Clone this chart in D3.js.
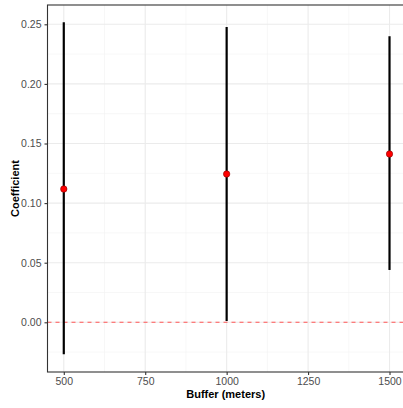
<!DOCTYPE html>
<html>
<head>
<meta charset="utf-8">
<script src="https://cdn.jsdelivr.net/npm/d3@7"></script>
<style>
  body { margin: 0; background: #fff; }
  svg { display: block; font-family: "Liberation Sans", Arial, sans-serif; }
</style>
</head>
<body>
<svg width="403" height="408"></svg>
<script>
// buffer sizes and estimates
const buffers = [500, 1000, 1500];
const coef = [0.1118, 0.1244, 0.1412];
const lower = [-0.0268, 0.001, 0.0439];
const upper = [0.2517, 0.2477, 0.2400];

const xTicks = [500, 750, 1000, 1250, 1500];
const yTicks = [0, 0.05, 0.1, 0.15, 0.2, 0.25];

const data = buffers.map((b, i) => ({ b: b, est: coef[i], lo: lower[i], hi: upper[i] }));

const svg = d3.select("svg");
const area = { left: 47.5, top: 5, right: 405.8, bottom: 372 };

const scX = d3.scaleLinear().domain([450, 1550]).range([area.left, area.right]);
const scY = d3.scaleLinear().domain([-0.0417, 0.2662]).range([area.bottom, area.top]);

// grid
const minorX = [625, 875, 1125, 1375];
const minorY = [-0.025, 0.025, 0.075, 0.125, 0.175, 0.225];
const grid = svg.append("g");
grid.selectAll(".mx").data(minorX).enter().append("line")
  .attr("x1", d => scX(d)).attr("x2", d => scX(d))
  .attr("y1", area.top).attr("y2", area.bottom)
  .attr("stroke", "#f2f2f2").attr("stroke-width", 0.6);
grid.selectAll(".my").data(minorY).enter().append("line")
  .attr("y1", d => scY(d)).attr("y2", d => scY(d))
  .attr("x1", area.left).attr("x2", area.right)
  .attr("stroke", "#f2f2f2").attr("stroke-width", 0.6);
grid.selectAll(".gx").data(xTicks).enter().append("line")
  .attr("x1", d => scX(d)).attr("x2", d => scX(d))
  .attr("y1", area.top).attr("y2", area.bottom)
  .attr("stroke", "#ebebeb").attr("stroke-width", 1.1);
grid.selectAll(".gy").data(yTicks).enter().append("line")
  .attr("y1", d => scY(d)).attr("y2", d => scY(d))
  .attr("x1", area.left).attr("x2", area.right)
  .attr("stroke", "#ebebeb").attr("stroke-width", 1.1);

// reference line at zero
svg.append("line")
  .attr("x1", area.left).attr("x2", area.right)
  .attr("y1", scY(0)).attr("y2", scY(0))
  .attr("stroke", "#ff5555").attr("stroke-width", 1.1)
  .attr("stroke-dasharray", "4,4");

// error bars
svg.selectAll(".bar").data(data).enter().append("line")
  .attr("x1", d => scX(d.b)).attr("x2", d => scX(d.b))
  .attr("y1", d => scY(d.lo)).attr("y2", d => scY(d.hi))
  .attr("stroke", "#000").attr("stroke-width", 2.2);

// points
svg.selectAll(".pt").data(data).enter().append("circle")
  .attr("cx", d => scX(d.b)).attr("cy", d => scY(d.est))
  .attr("r", 3.2)
  .attr("fill", "#ff0000").attr("stroke", "#8b0000").attr("stroke-width", 0.6);

// panel border
svg.append("rect")
  .attr("x", area.left).attr("y", area.top)
  .attr("width", area.right - area.left).attr("height", area.bottom - area.top)
  .attr("fill", "none").attr("stroke", "#333").attr("stroke-width", 1.1);

// axes
const axisX = svg.append("g")
  .attr("transform", `translate(0, ${area.bottom})`)
  .call(d3.axisBottom(scX).tickValues(xTicks).tickSize(3).tickPadding(3).tickFormat(d3.format("d")));
const axisY = svg.append("g")
  .attr("transform", `translate(${area.left}, 0)`)
  .call(d3.axisLeft(scY).tickValues(yTicks).tickSize(3).tickPadding(3).tickFormat(d3.format(".2f")));
[axisX, axisY].forEach(a => {
  a.select(".domain").remove();
  a.selectAll(".tick line").attr("stroke", "#333").attr("stroke-width", 1.1);
  a.selectAll("text").attr("fill", "#4d4d4d").style("font-size", "10.5px")
    .style("font-family", "'Liberation Sans', Arial, sans-serif");
});

// titles
svg.append("text")
  .attr("x", (area.left + area.right) / 2 - 1).attr("y", 398)
  .attr("text-anchor", "middle")
  .style("font-size", "11px").style("font-weight", "bold")
  .text("Buffer (meters)");
svg.append("text")
  .attr("transform", `translate(19, ${(area.top + area.bottom) / 2}) rotate(-90)`)
  .attr("text-anchor", "middle")
  .style("font-size", "11px").style("font-weight", "bold")
  .text("Coefficient");
</script>
</body>
</html>
